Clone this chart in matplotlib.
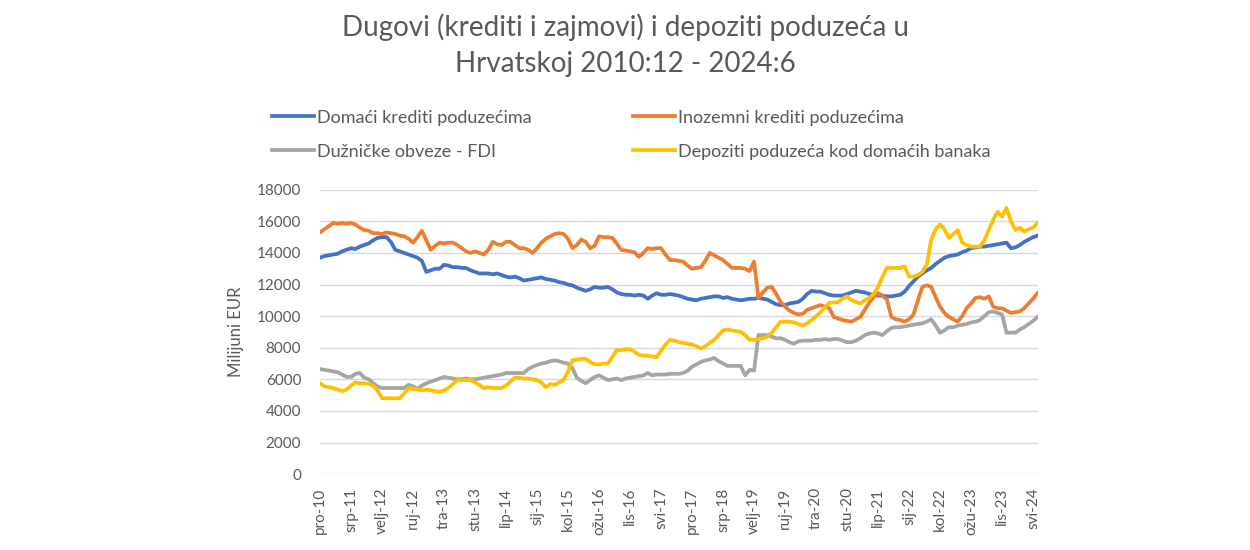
import matplotlib
matplotlib.use('Agg')
import matplotlib.pyplot as plt
import numpy as np

plt.rcParams['font.family'] = ['Lato', 'DejaVu Sans']

# ---- podaci (mjesečno, 2010:12 - 2024:6), milijuni EUR ----
domaci = [
    13700, 13800, 13850, 13900, 13950, 14100, 14200, 14300, 14250, 14400,
    14500, 14600, 14800, 14950, 15000, 15000, 14700, 14200, 14100, 14000,
    13900, 13800, 13700, 13500, 12800, 12900, 13000, 13000, 13250, 13200,
    13100, 13100, 13050, 13050, 12900, 12800, 12700, 12700, 12700, 12650,
    12700, 12600, 12500, 12450, 12500, 12400, 12250, 12300, 12350, 12400,
    12450, 12350, 12300, 12250, 12150, 12100, 12000, 11950, 11800, 11700,
    11600, 11700, 11850, 11800, 11800, 11850, 11700, 11500, 11400, 11350,
    11350, 11300, 11350, 11300, 11100, 11300, 11450, 11350, 11350, 11400,
    11350, 11300, 11200, 11100, 11050, 11000, 11100, 11150, 11200, 11250,
    11250, 11150, 11200, 11100, 11050, 11000, 11050, 11100, 11100, 11150,
    11100, 11050, 10900, 10750, 10700, 10700, 10800, 10850, 10900, 11100,
    11400, 11600, 11550, 11550, 11450, 11350, 11300, 11300, 11300, 11400,
    11500, 11600, 11550, 11500, 11400, 11350, 11300, 11300, 11250, 11250,
    11300, 11350, 11550, 11900, 12200, 12500, 12700, 12900, 13050, 13300,
    13500, 13700, 13800, 13850, 13900, 14050, 14150, 14300, 14350, 14400,
    14400, 14450, 14500, 14550, 14600, 14650, 14300, 14350, 14500, 14700,
    14850, 15000, 15100]

inozemni = [
    15300, 15500, 15700, 15900, 15850, 15900, 15850, 15900, 15800, 15600,
    15450, 15400, 15250, 15250, 15200, 15300, 15250, 15200, 15100, 15050,
    14900, 14650, 15000, 15400, 14800, 14200, 14450, 14650, 14600, 14650,
    14650, 14500, 14300, 14100, 14000, 14100, 14000, 13900, 14200, 14700,
    14550, 14500, 14700, 14700, 14500, 14300, 14300, 14200, 14000, 14300,
    14650, 14900, 15050, 15200, 15250, 15200, 14900, 14300, 14500, 14850,
    14700, 14300, 14450, 15050, 15000, 15000, 14950, 14600, 14200, 14150,
    14100, 14050, 13750, 14000, 14300, 14250, 14300, 14300, 13900, 13550,
    13550, 13500, 13450, 13200, 13000, 13050, 13100, 13500, 14000, 13850,
    13700, 13550, 13300, 13050, 13050, 13050, 13000, 12850, 13450, 11150,
    11500, 11800, 11850, 11400, 10900, 10600, 10350, 10200, 10100, 10150,
    10400, 10500, 10600, 10700, 10600, 10500, 9950, 9850, 9750, 9700,
    9650, 9800, 9950, 10400, 10850, 11200, 11450, 11300, 11050, 9950,
    9800, 9750, 9650, 9800, 10100, 11000, 11850, 11950, 11850, 11200,
    10600, 10200, 9950, 9800, 9650, 10000, 10500, 10800, 11150, 11200,
    11100, 11250, 10600, 10500, 10500, 10350, 10200, 10250, 10300, 10500,
    10800, 11100, 11450]

fdi = [
    6650, 6600, 6550, 6500, 6450, 6300, 6150, 6150, 6350, 6400,
    6100, 6000, 5750, 5550, 5450, 5450, 5450, 5450, 5450, 5450,
    5650, 5550, 5400, 5600, 5750, 5850, 5950, 6050, 6150, 6100,
    6050, 6000, 6000, 6050, 6000, 6000, 6050, 6100, 6150, 6200,
    6250, 6300, 6400, 6400, 6400, 6400, 6400, 6650, 6800, 6900,
    7000, 7050, 7150, 7200, 7150, 7050, 7000, 6700, 6100, 5900,
    5750, 5950, 6150, 6250, 6100, 5950, 6000, 6050, 5950, 6050,
    6100, 6150, 6200, 6250, 6400, 6250, 6300, 6300, 6300, 6350,
    6350, 6350, 6400, 6550, 6800, 6950, 7100, 7200, 7250, 7350,
    7150, 7000, 6850, 6850, 6850, 6850, 6250, 6600, 6550, 8800,
    8800, 8800, 8700, 8600, 8600, 8500, 8350, 8250, 8400, 8450,
    8450, 8450, 8500, 8500, 8550, 8500, 8550, 8550, 8450, 8350,
    8350, 8450, 8600, 8800, 8900, 8950, 8900, 8800, 9050, 9250,
    9300, 9300, 9350, 9400, 9450, 9500, 9550, 9650, 9800, 9400,
    8950, 9100, 9300, 9300, 9400, 9450, 9500, 9600, 9650, 9750,
    10000, 10250, 10300, 10200, 10100, 8950, 8950, 8950, 9150, 9300,
    9500, 9700, 9950]

depoziti = [
    5750, 5550, 5500, 5450, 5350, 5250, 5350, 5600, 5800, 5750,
    5750, 5700, 5600, 5300, 4800, 4800, 4800, 4800, 4800, 5100,
    5450, 5400, 5350, 5300, 5350, 5300, 5250, 5200, 5300, 5450,
    5700, 5950, 5950, 5950, 5950, 5800, 5650, 5450, 5500, 5450,
    5450, 5450, 5600, 5850, 6100, 6100, 6050, 6050, 6000, 5950,
    5800, 5500, 5700, 5650, 5800, 5950, 6500, 7200, 7250, 7300,
    7300, 7100, 6950, 6950, 7000, 7000, 7400, 7850, 7850, 7900,
    7900, 7750, 7550, 7500, 7500, 7450, 7400, 7800, 8200, 8500,
    8450, 8350, 8300, 8250, 8200, 8100, 7950, 8100, 8300, 8500,
    8800, 9100, 9150, 9100, 9050, 9000, 8800, 8500, 8500, 8550,
    8600, 8700, 8950, 9300, 9650, 9650, 9650, 9600, 9500, 9400,
    9550, 9750, 10000, 10250, 10550, 10850, 10850, 10900, 11100, 11250,
    11000, 10900, 10800, 11000, 11150, 11400, 11850, 12500, 13050, 13050,
    13050, 13050, 13150, 12500, 12500, 12600, 12800, 13250, 14850, 15500,
    15800, 15500, 14950, 15200, 15450, 14650, 14500, 14400, 14400, 14400,
    14800, 15450, 16100, 16600, 16300, 16850, 16000, 15450, 15600, 15350,
    15500, 15600, 15900]

tick_labels = ['pro-10', 'srp-11', 'velj-12', 'ruj-12', 'tra-13', 'stu-13',
               'lip-14', 'sij-15', 'kol-15', 'ožu-16', 'lis-16', 'svi-17',
               'pro-17', 'srp-18', 'velj-19', 'ruj-19', 'tra-20', 'stu-20',
               'lip-21', 'sij-22', 'kol-22', 'ožu-23', 'lis-23', 'svi-24']

txtColor = '#595959'
x = np.arange(len(domaci))

fig = plt.figure(figsize=(12.5, 5.5), dpi=100)
ax = fig.add_axes([0.256, 0.138, 0.574, 0.517])

l1, = ax.plot(x, domaci, color='#4472C4', lw=2.7, label='Domaći krediti poduzećima')
l2, = ax.plot(x, inozemni, color='#ED7D31', lw=2.7, label='Inozemni krediti poduzećima')
l3, = ax.plot(x, fdi, color='#A5A5A5', lw=2.7, label='Dužničke obveze - FDI')
l4, = ax.plot(x, depoziti, color='#FFC000', lw=2.7, label='Depoziti poduzeća kod domaćih banaka')

ax.set_xlim(0, len(domaci) - 1)
ax.set_ylim(0, 18000)
ax.set_yticks(np.arange(0, 18001, 2000))
ax.set_xticks(np.arange(0, len(domaci), 7))
ax.set_xticklabels(tick_labels, rotation=90)

# Axis style
for s in ax.spines.values():
    s.set_visible(False)
ax.tick_params(bottom=False, left=False, labelsize=11, labelcolor=txtColor)
ax.tick_params(axis='y', pad=10)
ax.tick_params(axis='x', pad=6)
ax.set_axisbelow(True)
ax.yaxis.grid(True, color='#D9D9D9', lw=1)
ax.xaxis.grid(False)
ax.set_ylabel('Milijuni EUR', fontsize=12, color=txtColor, labelpad=9)

fig.text(0.5, 0.975, 'Dugovi (krediti i zajmovi) i depoziti poduzeća u\nHrvatskoj 2010:12 - 2024:6',
         ha='center', va='top', fontsize=20, color=txtColor, linespacing=1.45)

# legenda: red 1 = domaći, inozemni; red 2 = FDI, depoziti
fig.legend([l1, l3, l2, l4], [l1.get_label(), l3.get_label(), l2.get_label(), l4.get_label()],
           loc='upper left', bbox_to_anchor=(0.212, 0.814), ncol=2, frameon=False,
           fontsize=13, labelcolor=txtColor, handlelength=2.3, handletextpad=0.2,
           columnspacing=5.6, labelspacing=1.0, borderaxespad=0)

fig.savefig('out.png', dpi=100)
